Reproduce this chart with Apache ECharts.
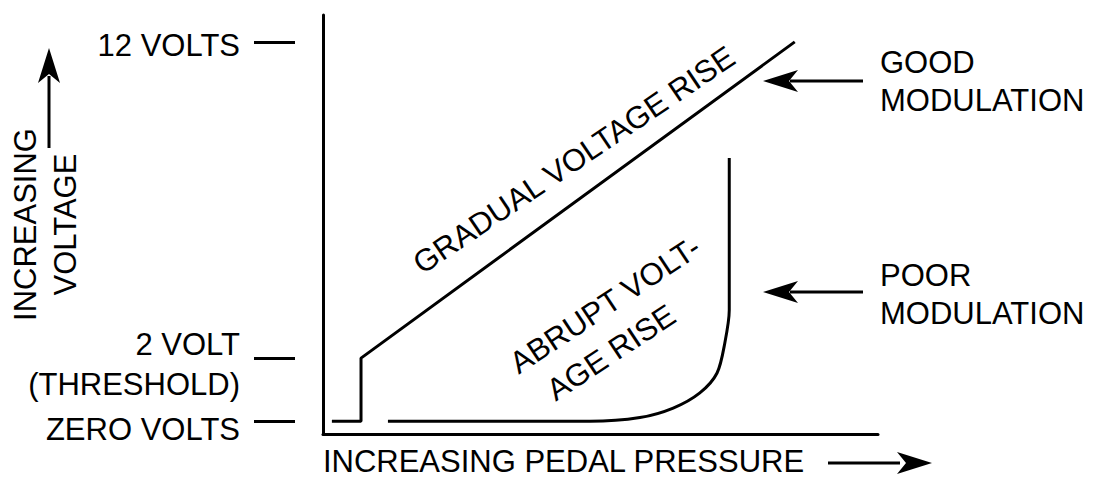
<!DOCTYPE html>
<html><head><meta charset="utf-8">
<script src="https://cdn.jsdelivr.net/npm/echarts@6/dist/echarts.min.js"></script>
<style>html,body{margin:0;padding:0;background:#fff}#c{width:1096px;height:478px}</style>
</head><body><div id="c"></div>
<script>
// tick values and labels (volts)
const tickValues = [0, 2, 12];
const tickLabels = ['ZERO VOLTS', '2 VOLT\n(THRESHOLD)', '12 VOLTS'];
// pedal pressure (0-100 arbitrary units) and voltage
const goodX = [1.6, 6.85, 6.85, 85.0];
const goodY = [0, 0, 2, 12];
const poorX = [11.7, 48.1, 57.1, 63.1, 67.9, 71.0, 72.4, 73.2, 73.2];
const poorY = [0, 0, 0.12, 0.42, 0.90, 1.53, 2.48, 3.52, 8.33];

const FONT = '"Liberation Sans", Arial, Helvetica, sans-serif';
const FS = 31;
const Y_MIN = -0.4, Y_MAX = 12.85;
const chart = echarts.init(document.getElementById('c'), null, {renderer: 'svg'});

// spacer heights push each label slightly below its tick, as in the source
const labelShift = {0: 16, 2: 12, 12: 8};

function arrowHead(tx, ty, dir) {
  const L = 35, w = 11, n = 9;
  let pts;
  if (dir === 'right') pts = [[tx, ty], [tx - L, ty - w], [tx - L + n, ty], [tx - L, ty + w]];
  else if (dir === 'left') pts = [[tx, ty], [tx + L, ty - w], [tx + L - n, ty], [tx + L, ty + w]];
  else pts = [[tx, ty], [tx - w, ty + L], [tx, ty + L - n], [tx + w, ty + L]];
  return {type: 'polygon', shape: {points: pts}, style: {fill: '#000'}, silent: true};
}
function line(x1, y1, x2, y2) {
  return {type: 'line', shape: {x1, y1, x2, y2}, style: {stroke: '#000', lineWidth: 3}, silent: true};
}
function txt(t, x, y, rot, align) {
  return {type: 'text', x, y, rotation: (rot || 0) * Math.PI / 180,
    style: {text: t, fontSize: FS, fontFamily: FONT, fill: '#000', align: align || 'left', verticalAlign: 'middle'}, silent: true};
}

const rich = {
  t: {fontSize: FS, fontFamily: FONT, color: '#000', lineHeight: 40, align: 'right'},
  s8: {fontSize: 1, lineHeight: 8}, s12: {fontSize: 1, lineHeight: 12}, s16: {fontSize: 1, lineHeight: 16}
};

// ticks are split over two axes (alternating) so that neighbouring labels are never auto-hidden
function tickAxis(values) {
  return {
    type: 'value', min: Y_MIN, max: Y_MAX, position: 'left', offset: 28,
    axisLine: {show: false, onZero: false},
    axisTick: {show: true, customValues: values, length: 41, inside: false, lineStyle: {color: '#000', width: 3}},
    axisLabel: {show: true, customValues: values, showMinLabel: true, showMaxLabel: true, hideOverlap: false,
      margin: 55, color: '#000', fontSize: FS, fontFamily: FONT, lineHeight: 40,
      formatter: v => {
        const lab = tickLabels[tickValues.indexOf(v)];
        return '{s' + labelShift[v] + '| }\n' + lab.split('\n').map(s => '{t|' + s + '}').join('\n');
      },
      rich: rich},
    splitLine: {show: false}
  };
}

const option = {
  backgroundColor: '#fff',
  animation: false,
  grid: {left: 323, right: 218, top: 15, bottom: 44, containLabel: false, outerBoundsMode: 'none'},
  xAxis: {
    type: 'value', min: 0, max: 100,
    axisLine: {show: true, onZero: false, lineStyle: {color: '#000', width: 3}},
    axisTick: {show: false}, axisLabel: {show: false}, splitLine: {show: false},
    name: 'INCREASING PEDAL PRESSURE', nameLocation: 'middle', nameGap: 15,
    nameTextStyle: {color: '#000', fontSize: FS, fontFamily: FONT, lineHeight: 24, padding: [0, 74, 0, 0]}
  },
  yAxis: [
    {
      type: 'value', min: Y_MIN, max: Y_MAX, position: 'left',
      axisLine: {show: true, onZero: false, lineStyle: {color: '#000', width: 3}},
      axisTick: {show: false}, axisLabel: {show: false}, splitLine: {show: false},
      name: 'INCREASING\nVOLTAGE', nameLocation: 'middle', nameRotate: 90, nameGap: 238,
      nameTextStyle: {color: '#000', fontSize: FS, fontFamily: FONT, lineHeight: 40}
    },
    tickAxis(tickValues.filter((v, i) => i % 2 === 0)),
    tickAxis(tickValues.filter((v, i) => i % 2 === 1))
  ],
  series: [
    {
      name: 'Good modulation', type: 'line', yAxisIndex: 0,
      data: goodX.map((x, i) => [x, goodY[i]]),
      showSymbol: false, symbol: 'none', lineStyle: {color: '#000', width: 3}, itemStyle: {color: '#000'}
    },
    {
      name: 'Poor modulation', type: 'line', yAxisIndex: 0, smooth: 0.3,
      data: poorX.map((x, i) => [x, poorY[i]]),
      showSymbol: false, symbol: 'none', lineStyle: {color: '#000', width: 3}, itemStyle: {color: '#000'}
    }
  ],
  graphic: [
    line(49, 148, 49, 76), arrowHead(49, 48, 'up'),
    line(828, 463, 900, 463), arrowHead(932, 463, 'right'),
    line(863, 81, 790, 81), arrowHead(763, 81, 'left'),
    line(863, 292, 790, 292), arrowHead(763, 292, 'left'),
    txt('GOOD', 880, 62), txt('MODULATION', 880, 100),
    txt('POOR', 880, 275), txt('MODULATION', 880, 313),
    txt('GRADUAL VOLTAGE RISE', 574, 160, 34, 'center'),
    txt('ABRUPT VOLT-', 513, 366, 33.5, 'left'),
    txt('AGE RISE', 550, 393, 33.5, 'left')
  ]
};
chart.setOption(option);
</script></body></html>
